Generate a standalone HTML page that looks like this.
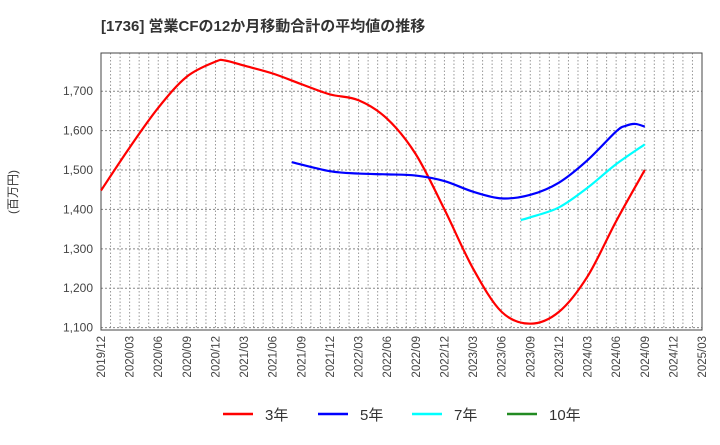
<!DOCTYPE html>
<html><head><meta charset="utf-8"><style>
body{margin:0;background:#fff;width:720px;height:440px;overflow:hidden;font-family:"Liberation Sans","Noto Sans CJK JP",sans-serif}
</style></head><body>
<svg id="c" width="720" height="440" xmlns="http://www.w3.org/2000/svg">
<text x="101" y="31" font-size="15" font-weight="bold" fill="#333" font-family="Liberation Sans,Noto Sans CJK JP,sans-serif">[1736]  営業CFの12か月移動合計の平均値の推移</text>
<text transform="translate(17,192) rotate(-90)" text-anchor="middle" font-size="12" fill="#333" font-family="Liberation Sans,Noto Sans CJK JP,sans-serif">(百万円)</text>
</svg>
<script>
const xTicks=["2019/12","2020/03","2020/06","2020/09","2020/12","2021/03","2021/06","2021/09","2021/12","2022/03","2022/06","2022/09","2022/12","2023/03","2023/06","2023/09","2023/12","2024/03","2024/06","2024/09","2024/12","2025/03"];
const yTicks=[1100,1200,1300,1400,1500,1600,1700];
// month offsets from 2019/12 and values
const m3=[0,3,6,9,12,13,15,18,21,24,27,30,33,36,39,42,45,48,51,54,57];
const v3=[1448,1557,1658,1737,1775,1778,1765,1745,1718,1692,1677,1630,1540,1400,1250,1140,1110,1140,1230,1370,1500];
const m5=[20,24,27,30,33,36,39,42,45,48,51,54,55,56,57];
const v5=[1520,1497,1491,1489,1486,1472,1445,1428,1437,1468,1525,1598,1612,1617,1610];
const m7=[44,45,48,51,54,57];
const v7=[1373,1380,1405,1455,1515,1565];
const L=101,R=702,T=53,B=330,YMIN=1094,YMAX=1797,NM=63;
const X=m=>L+(R-L)*m/NM;
const Y=v=>B-(B-T)*(v-YMIN)/(YMAX-YMIN);
const svg=document.getElementById('c');const NS="http://www.w3.org/2000/svg";
function mk(t,a){const e=document.createElementNS(NS,t);for(const k in a)e.setAttribute(k,a[k]);svg.appendChild(e);return e;}
for(let m=1;m<NM;m++){const g=mk('line',{x1:X(m),x2:X(m),y1:T,y2:B,stroke:'#999','stroke-dasharray':'1.5,2','stroke-width':1});

}
yTicks.forEach(v=>{const g=mk('line',{x1:L,x2:R,y1:Y(v),y2:Y(v),stroke:'#888','stroke-dasharray':'2,2'});


const t=mk('text',{x:L-8,y:Y(v)+4,'text-anchor':'end','font-size':12,fill:'#444'});t.textContent=v.toLocaleString('en-US');

});
xTicks.forEach((s,i)=>{const x=X(i*3);const t=mk('text',{transform:`translate(${x+4},${B+6}) rotate(-90)`,'text-anchor':'end','font-size':11.5,fill:'#444'});t.textContent=s;

});
const fr=mk('rect',{x:L,y:T,width:R-L,height:B-T,fill:'none',stroke:'#444','stroke-width':1});


function path(ms,vs){const p=ms.map((m,i)=>[X(m),Y(vs[i])]);let d=`M${p[0][0]},${p[0][1]}`;
for(let i=0;i<p.length-1;i++){const p0=p[i-1]||p[i],p1=p[i],p2=p[i+1],p3=p[i+2]||p2;
d+=`C${p1[0]+(p2[0]-p0[0])/6},${p1[1]+(p2[1]-p0[1])/6} ${p2[0]-(p3[0]-p1[0])/6},${p2[1]-(p3[1]-p1[1])/6} ${p2[0]},${p2[1]}`;}return d;}
[[m3,v3,'#ff0000','line-3yr'],[m5,v5,'#0000ff','line-5yr'],[m7,v7,'#00ffff','line-7yr']].forEach(s=>{
const e=mk('path',{d:path(s[0],s[1]),fill:'none',stroke:s[2],'stroke-width':2.2});

});
[['3年','#ff0000',223],['5年','#0000ff',318],['7年','#00ffff',412],['10年','#228b22',507]].forEach(l=>{
const ln=mk('line',{x1:l[2],x2:l[2]+30,y1:414,y2:414,stroke:l[1],'stroke-width':2.5});


const t=mk('text',{x:l[2]+42,y:420,'font-size':15,fill:'#333'});t.textContent=l[0];

});
</script>
</body></html>
